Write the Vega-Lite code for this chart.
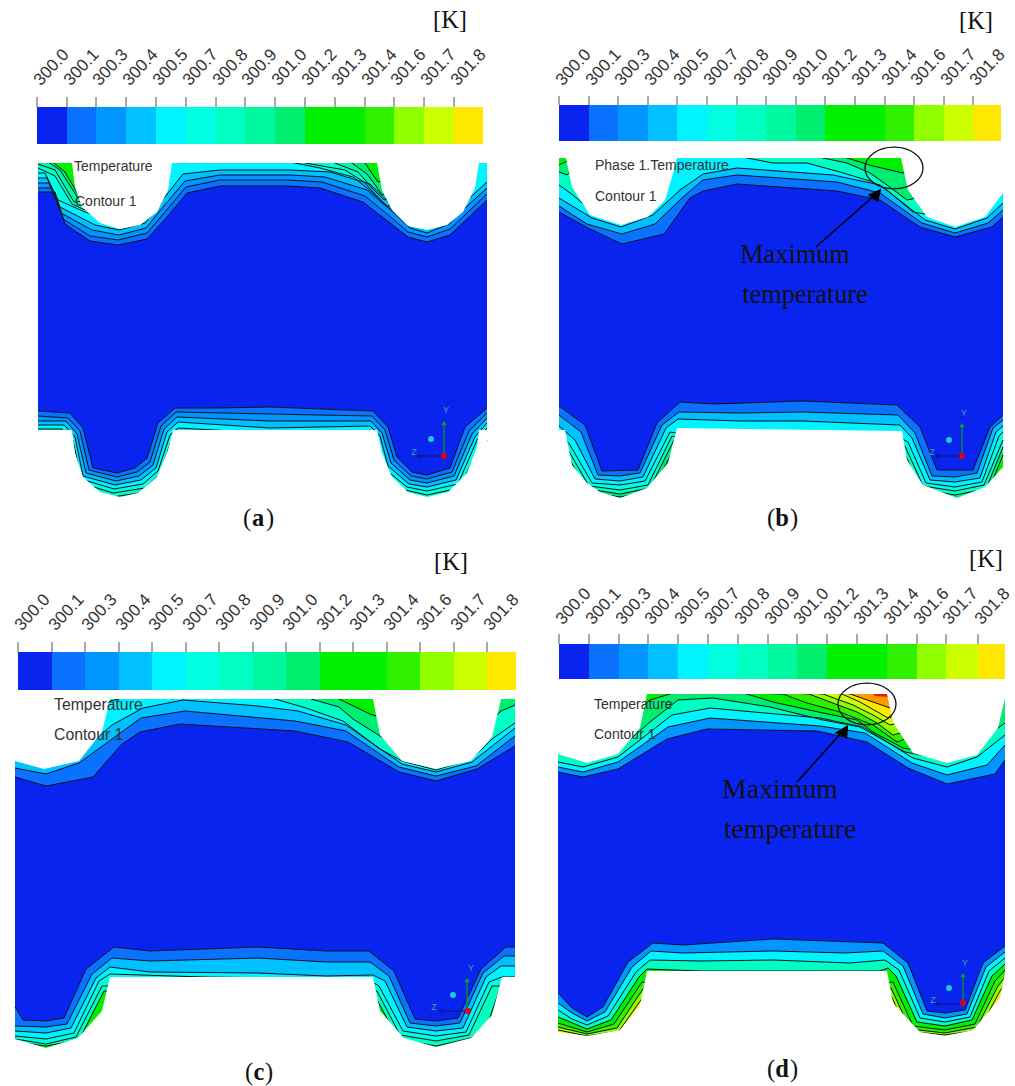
{"$schema":"https://vega.github.io/schema/vega-lite/v6.json","width":1015,"height":1086,"padding":0,"autosize":{"type":"fit","contains":"padding"},"background":"#ffffff","config":{"view":{"stroke":null}},
"datasets":{
"contours":[
{"p":"at","t":9,"x":38,"y":120,"n":1},{"p":"at","t":9,"x":487,"y":120,"n":1},{"p":"at","t":9,"x":487,"y":330,"n":1},{"p":"at","t":9,"x":38,"y":330,"n":1},
{"p":"at","t":8,"x":38,"y":150},{"p":"at","t":8,"x":65,"y":172},{"p":"at","t":8,"x":79,"y":196},{"p":"at","t":8,"x":100,"y":180},{"p":"at","t":8,"x":140,"y":140},{"p":"at","t":8,"x":345,"y":150},{"p":"at","t":8,"x":365,"y":163},{"p":"at","t":8,"x":378,"y":182},{"p":"at","t":8,"x":420,"y":170},{"p":"at","t":8,"x":487,"y":130},{"p":"at","t":8,"x":487,"y":330,"n":1},{"p":"at","t":8,"x":38,"y":330,"n":1},
{"p":"at","t":7,"x":38,"y":155},{"p":"at","t":7,"x":60,"y":170},{"p":"at","t":7,"x":78,"y":198},{"p":"at","t":7,"x":100,"y":190},{"p":"at","t":7,"x":140,"y":145},{"p":"at","t":7,"x":335,"y":150},{"p":"at","t":7,"x":352,"y":163},{"p":"at","t":7,"x":367,"y":174},{"p":"at","t":7,"x":376,"y":186},{"p":"at","t":7,"x":382,"y":195},{"p":"at","t":7,"x":420,"y":180},{"p":"at","t":7,"x":487,"y":135},{"p":"at","t":7,"x":487,"y":330,"n":1},{"p":"at","t":7,"x":38,"y":330,"n":1},
{"p":"at","t":6,"x":38,"y":164},{"p":"at","t":6,"x":55,"y":170},{"p":"at","t":6,"x":74,"y":202},{"p":"at","t":6,"x":95,"y":200},{"p":"at","t":6,"x":140,"y":150},{"p":"at","t":6,"x":310,"y":150},{"p":"at","t":6,"x":335,"y":163},{"p":"at","t":6,"x":358,"y":172},{"p":"at","t":6,"x":372,"y":188},{"p":"at","t":6,"x":384,"y":200},{"p":"at","t":6,"x":420,"y":190},{"p":"at","t":6,"x":487,"y":140},{"p":"at","t":6,"x":487,"y":330,"n":1},{"p":"at","t":6,"x":38,"y":330,"n":1},
{"p":"at","t":5,"x":38,"y":168},{"p":"at","t":5,"x":55,"y":176},{"p":"at","t":5,"x":72,"y":204},{"p":"at","t":5,"x":85,"y":210},{"p":"at","t":5,"x":120,"y":200},{"p":"at","t":5,"x":165,"y":150},{"p":"at","t":5,"x":290,"y":150},{"p":"at","t":5,"x":305,"y":163},{"p":"at","t":5,"x":345,"y":170},{"p":"at","t":5,"x":364,"y":182},{"p":"at","t":5,"x":386,"y":206},{"p":"at","t":5,"x":420,"y":205},{"p":"at","t":5,"x":487,"y":150},{"p":"at","t":5,"x":487,"y":330,"n":1},{"p":"at","t":5,"x":38,"y":330,"n":1},
{"p":"at","t":4,"x":38,"y":173},{"p":"at","t":4,"x":45,"y":173},{"p":"at","t":4,"x":58,"y":200},{"p":"at","t":4,"x":85,"y":212},{"p":"at","t":4,"x":120,"y":222},{"p":"at","t":4,"x":150,"y":205},{"p":"at","t":4,"x":172,"y":160},{"p":"at","t":4,"x":280,"y":160},{"p":"at","t":4,"x":320,"y":168},{"p":"at","t":4,"x":353,"y":177},{"p":"at","t":4,"x":367,"y":188},{"p":"at","t":4,"x":392,"y":210},{"p":"at","t":4,"x":408,"y":220},{"p":"at","t":4,"x":427,"y":222},{"p":"at","t":4,"x":450,"y":215},{"p":"at","t":4,"x":470,"y":190},{"p":"at","t":4,"x":479,"y":155},{"p":"at","t":4,"x":487,"y":155},{"p":"at","t":4,"x":487,"y":330,"n":1},{"p":"at","t":4,"x":38,"y":330,"n":1},
{"p":"at","t":3,"x":38,"y":178},{"p":"at","t":3,"x":47,"y":178},{"p":"at","t":3,"x":60,"y":207},{"p":"at","t":3,"x":95,"y":225},{"p":"at","t":3,"x":119,"y":230},{"p":"at","t":3,"x":145,"y":223},{"p":"at","t":3,"x":160,"y":203},{"p":"at","t":3,"x":183,"y":174},{"p":"at","t":3,"x":220,"y":170},{"p":"at","t":3,"x":290,"y":170},{"p":"at","t":3,"x":330,"y":172},{"p":"at","t":3,"x":370,"y":184},{"p":"at","t":3,"x":395,"y":208},{"p":"at","t":3,"x":410,"y":224},{"p":"at","t":3,"x":427,"y":229},{"p":"at","t":3,"x":448,"y":219},{"p":"at","t":3,"x":463,"y":204},{"p":"at","t":3,"x":487,"y":182},{"p":"at","t":3,"x":487,"y":330,"n":1},{"p":"at","t":3,"x":38,"y":330,"n":1},
{"p":"at","t":2,"x":38,"y":183},{"p":"at","t":2,"x":49,"y":183},{"p":"at","t":2,"x":61,"y":213},{"p":"at","t":2,"x":92,"y":230},{"p":"at","t":2,"x":119,"y":235},{"p":"at","t":2,"x":146,"y":228},{"p":"at","t":2,"x":163,"y":207},{"p":"at","t":2,"x":185,"y":181},{"p":"at","t":2,"x":220,"y":175},{"p":"at","t":2,"x":290,"y":175},{"p":"at","t":2,"x":325,"y":177},{"p":"at","t":2,"x":367,"y":190},{"p":"at","t":2,"x":394,"y":213},{"p":"at","t":2,"x":410,"y":228},{"p":"at","t":2,"x":427,"y":233},{"p":"at","t":2,"x":449,"y":224},{"p":"at","t":2,"x":465,"y":208},{"p":"at","t":2,"x":487,"y":188},{"p":"at","t":2,"x":487,"y":330,"n":1},{"p":"at","t":2,"x":38,"y":330,"n":1},
{"p":"at","t":1,"x":38,"y":188},{"p":"at","t":1,"x":52,"y":188},{"p":"at","t":1,"x":63,"y":219},{"p":"at","t":1,"x":90,"y":236},{"p":"at","t":1,"x":118,"y":240},{"p":"at","t":1,"x":147,"y":233},{"p":"at","t":1,"x":165,"y":212},{"p":"at","t":1,"x":186,"y":187},{"p":"at","t":1,"x":220,"y":180},{"p":"at","t":1,"x":287,"y":180},{"p":"at","t":1,"x":322,"y":182},{"p":"at","t":1,"x":365,"y":196},{"p":"at","t":1,"x":392,"y":218},{"p":"at","t":1,"x":408,"y":232},{"p":"at","t":1,"x":427,"y":237},{"p":"at","t":1,"x":450,"y":229},{"p":"at","t":1,"x":467,"y":213},{"p":"at","t":1,"x":487,"y":194},{"p":"at","t":1,"x":487,"y":330,"n":1},{"p":"at","t":1,"x":38,"y":330,"n":1},
{"p":"at","t":0,"x":38,"y":192},{"p":"at","t":0,"x":55,"y":192},{"p":"at","t":0,"x":65,"y":224},{"p":"at","t":0,"x":90,"y":241},{"p":"at","t":0,"x":118,"y":245},{"p":"at","t":0,"x":147,"y":239},{"p":"at","t":0,"x":167,"y":217},{"p":"at","t":0,"x":187,"y":193},{"p":"at","t":0,"x":220,"y":186},{"p":"at","t":0,"x":287,"y":186},{"p":"at","t":0,"x":320,"y":188},{"p":"at","t":0,"x":363,"y":202},{"p":"at","t":0,"x":390,"y":223},{"p":"at","t":0,"x":408,"y":237},{"p":"at","t":0,"x":427,"y":242},{"p":"at","t":0,"x":450,"y":235},{"p":"at","t":0,"x":468,"y":218},{"p":"at","t":0,"x":487,"y":200},{"p":"at","t":0,"x":487,"y":330,"n":1},{"p":"at","t":0,"x":38,"y":330,"n":1},

{"p":"ab","t":8,"x":38,"y":300,"n":1},{"p":"ab","t":8,"x":487,"y":300,"n":1},{"p":"ab","t":8,"x":487,"y":520,"n":1},{"p":"ab","t":8,"x":38,"y":520,"n":1},
{"p":"ab","t":6,"x":38,"y":440},{"p":"ab","t":6,"x":60,"y":440},{"p":"ab","t":6,"x":68,"y":449},{"p":"ab","t":6,"x":76,"y":485},{"p":"ab","t":6,"x":112,"y":497},{"p":"ab","t":6,"x":147,"y":492},{"p":"ab","t":6,"x":163,"y":477},{"p":"ab","t":6,"x":175,"y":442},{"p":"ab","t":6,"x":200,"y":445},{"p":"ab","t":6,"x":360,"y":445},{"p":"ab","t":6,"x":372,"y":450},{"p":"ab","t":6,"x":380,"y":475},{"p":"ab","t":6,"x":403,"y":493},{"p":"ab","t":6,"x":427,"y":499},{"p":"ab","t":6,"x":462,"y":492},{"p":"ab","t":6,"x":483,"y":448},{"p":"ab","t":6,"x":487,"y":440},{"p":"ab","t":6,"x":487,"y":300,"n":1},{"p":"ab","t":6,"x":38,"y":300,"n":1},
{"p":"ab","t":5,"x":38,"y":435},{"p":"ab","t":5,"x":60,"y":435},{"p":"ab","t":5,"x":70,"y":444},{"p":"ab","t":5,"x":78,"y":482},{"p":"ab","t":5,"x":113,"y":493},{"p":"ab","t":5,"x":145,"y":488},{"p":"ab","t":5,"x":160,"y":474},{"p":"ab","t":5,"x":172,"y":438},{"p":"ab","t":5,"x":200,"y":440},{"p":"ab","t":5,"x":360,"y":440},{"p":"ab","t":5,"x":375,"y":445},{"p":"ab","t":5,"x":383,"y":472},{"p":"ab","t":5,"x":405,"y":490},{"p":"ab","t":5,"x":427,"y":495},{"p":"ab","t":5,"x":460,"y":488},{"p":"ab","t":5,"x":480,"y":444},{"p":"ab","t":5,"x":487,"y":434},{"p":"ab","t":5,"x":487,"y":300,"n":1},{"p":"ab","t":5,"x":38,"y":300,"n":1},
{"p":"ab","t":4,"x":38,"y":429},{"p":"ab","t":4,"x":62,"y":429},{"p":"ab","t":4,"x":73,"y":440},{"p":"ab","t":4,"x":81,"y":479},{"p":"ab","t":4,"x":114,"y":489},{"p":"ab","t":4,"x":143,"y":484},{"p":"ab","t":4,"x":158,"y":471},{"p":"ab","t":4,"x":170,"y":435},{"p":"ab","t":4,"x":178,"y":428},{"p":"ab","t":4,"x":250,"y":432},{"p":"ab","t":4,"x":375,"y":431},{"p":"ab","t":4,"x":378,"y":440},{"p":"ab","t":4,"x":385,"y":469},{"p":"ab","t":4,"x":407,"y":487},{"p":"ab","t":4,"x":427,"y":491},{"p":"ab","t":4,"x":458,"y":484},{"p":"ab","t":4,"x":477,"y":440},{"p":"ab","t":4,"x":487,"y":428},{"p":"ab","t":4,"x":487,"y":300,"n":1},{"p":"ab","t":4,"x":38,"y":300,"n":1},
{"p":"ab","t":3,"x":38,"y":425},{"p":"ab","t":3,"x":64,"y":425},{"p":"ab","t":3,"x":75,"y":437},{"p":"ab","t":3,"x":83,"y":476},{"p":"ab","t":3,"x":115,"y":485},{"p":"ab","t":3,"x":141,"y":480},{"p":"ab","t":3,"x":156,"y":468},{"p":"ab","t":3,"x":167,"y":432},{"p":"ab","t":3,"x":178,"y":422},{"p":"ab","t":3,"x":270,"y":428},{"p":"ab","t":3,"x":370,"y":426},{"p":"ab","t":3,"x":380,"y":436},{"p":"ab","t":3,"x":388,"y":466},{"p":"ab","t":3,"x":409,"y":484},{"p":"ab","t":3,"x":427,"y":487},{"p":"ab","t":3,"x":456,"y":480},{"p":"ab","t":3,"x":475,"y":437},{"p":"ab","t":3,"x":487,"y":423},{"p":"ab","t":3,"x":487,"y":300,"n":1},{"p":"ab","t":3,"x":38,"y":300,"n":1},
{"p":"ab","t":2,"x":38,"y":421},{"p":"ab","t":2,"x":66,"y":421},{"p":"ab","t":2,"x":77,"y":434},{"p":"ab","t":2,"x":86,"y":473},{"p":"ab","t":2,"x":116,"y":481},{"p":"ab","t":2,"x":139,"y":476},{"p":"ab","t":2,"x":153,"y":465},{"p":"ab","t":2,"x":164,"y":429},{"p":"ab","t":2,"x":177,"y":417},{"p":"ab","t":2,"x":270,"y":421},{"p":"ab","t":2,"x":371,"y":421},{"p":"ab","t":2,"x":382,"y":433},{"p":"ab","t":2,"x":391,"y":463},{"p":"ab","t":2,"x":410,"y":480},{"p":"ab","t":2,"x":427,"y":483},{"p":"ab","t":2,"x":454,"y":476},{"p":"ab","t":2,"x":472,"y":434},{"p":"ab","t":2,"x":487,"y":418},{"p":"ab","t":2,"x":487,"y":300,"n":1},{"p":"ab","t":2,"x":38,"y":300,"n":1},
{"p":"ab","t":1,"x":38,"y":416},{"p":"ab","t":1,"x":68,"y":418},{"p":"ab","t":1,"x":80,"y":431},{"p":"ab","t":1,"x":89,"y":470},{"p":"ab","t":1,"x":117,"y":477},{"p":"ab","t":1,"x":137,"y":472},{"p":"ab","t":1,"x":150,"y":462},{"p":"ab","t":1,"x":161,"y":426},{"p":"ab","t":1,"x":176,"y":412},{"p":"ab","t":1,"x":270,"y":414},{"p":"ab","t":1,"x":372,"y":416},{"p":"ab","t":1,"x":385,"y":430},{"p":"ab","t":1,"x":394,"y":460},{"p":"ab","t":1,"x":411,"y":476},{"p":"ab","t":1,"x":427,"y":479},{"p":"ab","t":1,"x":452,"y":472},{"p":"ab","t":1,"x":469,"y":431},{"p":"ab","t":1,"x":487,"y":413},{"p":"ab","t":1,"x":487,"y":300,"n":1},{"p":"ab","t":1,"x":38,"y":300,"n":1},
{"p":"ab","t":0,"x":38,"y":411},{"p":"ab","t":0,"x":70,"y":413},{"p":"ab","t":0,"x":83,"y":428},{"p":"ab","t":0,"x":93,"y":468},{"p":"ab","t":0,"x":117,"y":473},{"p":"ab","t":0,"x":135,"y":468},{"p":"ab","t":0,"x":147,"y":458},{"p":"ab","t":0,"x":158,"y":423},{"p":"ab","t":0,"x":175,"y":408},{"p":"ab","t":0,"x":220,"y":408},{"p":"ab","t":0,"x":270,"y":407},{"p":"ab","t":0,"x":373,"y":411},{"p":"ab","t":0,"x":388,"y":427},{"p":"ab","t":0,"x":397,"y":457},{"p":"ab","t":0,"x":412,"y":472},{"p":"ab","t":0,"x":427,"y":475},{"p":"ab","t":0,"x":450,"y":468},{"p":"ab","t":0,"x":465,"y":427},{"p":"ab","t":0,"x":487,"y":408},{"p":"ab","t":0,"x":487,"y":300,"n":1},{"p":"ab","t":0,"x":38,"y":300,"n":1},

{"p":"bt","t":9,"x":559,"y":120,"n":1},{"p":"bt","t":9,"x":1003,"y":120,"n":1},{"p":"bt","t":9,"x":1003,"y":330,"n":1},{"p":"bt","t":9,"x":559,"y":330,"n":1},
{"p":"bt","t":8,"x":559,"y":165},{"p":"bt","t":8,"x":600,"y":145},{"p":"bt","t":8,"x":830,"y":150},{"p":"bt","t":8,"x":847,"y":158},{"p":"bt","t":8,"x":873,"y":166},{"p":"bt","t":8,"x":903,"y":173},{"p":"bt","t":8,"x":930,"y":165},{"p":"bt","t":8,"x":1003,"y":145},{"p":"bt","t":8,"x":1003,"y":330,"n":1},{"p":"bt","t":8,"x":559,"y":330,"n":1},
{"p":"bt","t":6,"x":559,"y":172},{"p":"bt","t":6,"x":567,"y":175},{"p":"bt","t":6,"x":590,"y":150},{"p":"bt","t":6,"x":800,"y":150},{"p":"bt","t":6,"x":823,"y":158},{"p":"bt","t":6,"x":847,"y":163},{"p":"bt","t":6,"x":870,"y":173},{"p":"bt","t":6,"x":887,"y":185},{"p":"bt","t":6,"x":907,"y":200},{"p":"bt","t":6,"x":930,"y":195},{"p":"bt","t":6,"x":1003,"y":160},{"p":"bt","t":6,"x":1003,"y":330,"n":1},{"p":"bt","t":6,"x":559,"y":330,"n":1},
{"p":"bt","t":4,"x":559,"y":185},{"p":"bt","t":4,"x":573,"y":195},{"p":"bt","t":4,"x":590,"y":210},{"p":"bt","t":4,"x":621,"y":205},{"p":"bt","t":4,"x":650,"y":190},{"p":"bt","t":4,"x":677,"y":150},{"p":"bt","t":4,"x":735,"y":150},{"p":"bt","t":4,"x":747,"y":158},{"p":"bt","t":4,"x":773,"y":163},{"p":"bt","t":4,"x":807,"y":163},{"p":"bt","t":4,"x":840,"y":172},{"p":"bt","t":4,"x":873,"y":182},{"p":"bt","t":4,"x":887,"y":190},{"p":"bt","t":4,"x":913,"y":212},{"p":"bt","t":4,"x":930,"y":215},{"p":"bt","t":4,"x":955,"y":222},{"p":"bt","t":4,"x":985,"y":212},{"p":"bt","t":4,"x":1003,"y":188},{"p":"bt","t":4,"x":1003,"y":330,"n":1},{"p":"bt","t":4,"x":559,"y":330,"n":1},
{"p":"bt","t":3,"x":559,"y":198},{"p":"bt","t":3,"x":592,"y":218},{"p":"bt","t":3,"x":621,"y":227},{"p":"bt","t":3,"x":653,"y":215},{"p":"bt","t":3,"x":680,"y":190},{"p":"bt","t":3,"x":703,"y":174},{"p":"bt","t":3,"x":737,"y":168},{"p":"bt","t":3,"x":833,"y":175},{"p":"bt","t":3,"x":880,"y":185},{"p":"bt","t":3,"x":925,"y":220},{"p":"bt","t":3,"x":955,"y":229},{"p":"bt","t":3,"x":987,"y":218},{"p":"bt","t":3,"x":1003,"y":203},{"p":"bt","t":3,"x":1003,"y":330,"n":1},{"p":"bt","t":3,"x":559,"y":330,"n":1},
{"p":"bt","t":1,"x":559,"y":206},{"p":"bt","t":1,"x":587,"y":224},{"p":"bt","t":1,"x":622,"y":234},{"p":"bt","t":1,"x":655,"y":224},{"p":"bt","t":1,"x":683,"y":197},{"p":"bt","t":1,"x":703,"y":180},{"p":"bt","t":1,"x":737,"y":175},{"p":"bt","t":1,"x":837,"y":182},{"p":"bt","t":1,"x":880,"y":193},{"p":"bt","t":1,"x":922,"y":223},{"p":"bt","t":1,"x":955,"y":233},{"p":"bt","t":1,"x":988,"y":223},{"p":"bt","t":1,"x":1003,"y":210},{"p":"bt","t":1,"x":1003,"y":330,"n":1},{"p":"bt","t":1,"x":559,"y":330,"n":1},
{"p":"bt","t":0,"x":559,"y":212},{"p":"bt","t":0,"x":588,"y":228},{"p":"bt","t":0,"x":622,"y":244},{"p":"bt","t":0,"x":664,"y":234},{"p":"bt","t":0,"x":690,"y":198},{"p":"bt","t":0,"x":703,"y":191},{"p":"bt","t":0,"x":737,"y":184},{"p":"bt","t":0,"x":837,"y":191},{"p":"bt","t":0,"x":880,"y":200},{"p":"bt","t":0,"x":920,"y":227},{"p":"bt","t":0,"x":955,"y":237},{"p":"bt","t":0,"x":992,"y":227},{"p":"bt","t":0,"x":1003,"y":217},{"p":"bt","t":0,"x":1003,"y":330,"n":1},{"p":"bt","t":0,"x":559,"y":330,"n":1},

{"p":"bb","t":10,"x":559,"y":300,"n":1},{"p":"bb","t":10,"x":1003,"y":300,"n":1},{"p":"bb","t":10,"x":1003,"y":520,"n":1},{"p":"bb","t":10,"x":559,"y":520,"n":1},
{"p":"bb","t":8,"x":559,"y":450},{"p":"bb","t":8,"x":563,"y":456},{"p":"bb","t":8,"x":585,"y":491},{"p":"bb","t":8,"x":620,"y":497},{"p":"bb","t":8,"x":652,"y":491},{"p":"bb","t":8,"x":676,"y":445},{"p":"bb","t":8,"x":690,"y":450},{"p":"bb","t":8,"x":895,"y":450},{"p":"bb","t":8,"x":901,"y":455},{"p":"bb","t":8,"x":919,"y":492},{"p":"bb","t":8,"x":955,"y":499},{"p":"bb","t":8,"x":988,"y":492},{"p":"bb","t":8,"x":1003,"y":455},{"p":"bb","t":8,"x":1003,"y":300,"n":1},{"p":"bb","t":8,"x":559,"y":300,"n":1},
{"p":"bb","t":6,"x":559,"y":445},{"p":"bb","t":6,"x":565,"y":452},{"p":"bb","t":6,"x":587,"y":489},{"p":"bb","t":6,"x":620,"y":494},{"p":"bb","t":6,"x":650,"y":488},{"p":"bb","t":6,"x":674,"y":440},{"p":"bb","t":6,"x":690,"y":445},{"p":"bb","t":6,"x":895,"y":445},{"p":"bb","t":6,"x":903,"y":450},{"p":"bb","t":6,"x":921,"y":489},{"p":"bb","t":6,"x":955,"y":495},{"p":"bb","t":6,"x":986,"y":489},{"p":"bb","t":6,"x":1003,"y":447},{"p":"bb","t":6,"x":1003,"y":300,"n":1},{"p":"bb","t":6,"x":559,"y":300,"n":1},
{"p":"bb","t":5,"x":559,"y":440},{"p":"bb","t":5,"x":567,"y":448},{"p":"bb","t":5,"x":589,"y":486},{"p":"bb","t":5,"x":620,"y":490},{"p":"bb","t":5,"x":648,"y":485},{"p":"bb","t":5,"x":672,"y":436},{"p":"bb","t":5,"x":685,"y":440},{"p":"bb","t":5,"x":895,"y":440},{"p":"bb","t":5,"x":905,"y":446},{"p":"bb","t":5,"x":923,"y":486},{"p":"bb","t":5,"x":955,"y":491},{"p":"bb","t":5,"x":984,"y":485},{"p":"bb","t":5,"x":1003,"y":440},{"p":"bb","t":5,"x":1003,"y":300,"n":1},{"p":"bb","t":5,"x":559,"y":300,"n":1},
{"p":"bb","t":4,"x":559,"y":432},{"p":"bb","t":4,"x":570,"y":445},{"p":"bb","t":4,"x":592,"y":483},{"p":"bb","t":4,"x":620,"y":485},{"p":"bb","t":4,"x":645,"y":481},{"p":"bb","t":4,"x":670,"y":432},{"p":"bb","t":4,"x":685,"y":435},{"p":"bb","t":4,"x":895,"y":435},{"p":"bb","t":4,"x":908,"y":442},{"p":"bb","t":4,"x":926,"y":483},{"p":"bb","t":4,"x":955,"y":487},{"p":"bb","t":4,"x":982,"y":482},{"p":"bb","t":4,"x":999,"y":436},{"p":"bb","t":4,"x":1003,"y":432},{"p":"bb","t":4,"x":1003,"y":300,"n":1},{"p":"bb","t":4,"x":559,"y":300,"n":1},
{"p":"bb","t":3,"x":559,"y":426},{"p":"bb","t":3,"x":575,"y":440},{"p":"bb","t":3,"x":595,"y":479},{"p":"bb","t":3,"x":620,"y":481},{"p":"bb","t":3,"x":643,"y":477},{"p":"bb","t":3,"x":666,"y":428},{"p":"bb","t":3,"x":678,"y":419},{"p":"bb","t":3,"x":740,"y":421},{"p":"bb","t":3,"x":803,"y":421},{"p":"bb","t":3,"x":900,"y":425},{"p":"bb","t":3,"x":912,"y":438},{"p":"bb","t":3,"x":930,"y":480},{"p":"bb","t":3,"x":955,"y":482},{"p":"bb","t":3,"x":980,"y":478},{"p":"bb","t":3,"x":996,"y":432},{"p":"bb","t":3,"x":1003,"y":426},{"p":"bb","t":3,"x":1003,"y":300,"n":1},{"p":"bb","t":3,"x":559,"y":300,"n":1},
{"p":"bb","t":1,"x":559,"y":415},{"p":"bb","t":1,"x":581,"y":432},{"p":"bb","t":1,"x":598,"y":475},{"p":"bb","t":1,"x":620,"y":476},{"p":"bb","t":1,"x":640,"y":473},{"p":"bb","t":1,"x":662,"y":425},{"p":"bb","t":1,"x":679,"y":412},{"p":"bb","t":1,"x":740,"y":413},{"p":"bb","t":1,"x":803,"y":412},{"p":"bb","t":1,"x":898,"y":415},{"p":"bb","t":1,"x":915,"y":433},{"p":"bb","t":1,"x":932,"y":476},{"p":"bb","t":1,"x":955,"y":477},{"p":"bb","t":1,"x":977,"y":473},{"p":"bb","t":1,"x":993,"y":428},{"p":"bb","t":1,"x":1003,"y":420},{"p":"bb","t":1,"x":1003,"y":300,"n":1},{"p":"bb","t":1,"x":559,"y":300,"n":1},
{"p":"bb","t":0,"x":559,"y":406},{"p":"bb","t":0,"x":585,"y":425},{"p":"bb","t":0,"x":602,"y":471},{"p":"bb","t":0,"x":638,"y":470},{"p":"bb","t":0,"x":657,"y":423},{"p":"bb","t":0,"x":680,"y":402},{"p":"bb","t":0,"x":713,"y":404},{"p":"bb","t":0,"x":803,"y":401},{"p":"bb","t":0,"x":897,"y":405},{"p":"bb","t":0,"x":920,"y":427},{"p":"bb","t":0,"x":937,"y":470},{"p":"bb","t":0,"x":973,"y":470},{"p":"bb","t":0,"x":990,"y":427},{"p":"bb","t":0,"x":1003,"y":415},{"p":"bb","t":0,"x":1003,"y":300,"n":1},{"p":"bb","t":0,"x":559,"y":300,"n":1},

{"p":"ct","t":9,"x":15,"y":650,"n":1},{"p":"ct","t":9,"x":515,"y":650,"n":1},{"p":"ct","t":9,"x":515,"y":870,"n":1},{"p":"ct","t":9,"x":15,"y":870,"n":1},
{"p":"ct","t":8,"x":15,"y":733},{"p":"ct","t":8,"x":61,"y":723},{"p":"ct","t":8,"x":102,"y":682},{"p":"ct","t":8,"x":326,"y":688},{"p":"ct","t":8,"x":339,"y":699},{"p":"ct","t":8,"x":370,"y":714},{"p":"ct","t":8,"x":382,"y":718},{"p":"ct","t":8,"x":436,"y":733},{"p":"ct","t":8,"x":472,"y":718},{"p":"ct","t":8,"x":501,"y":698},{"p":"ct","t":8,"x":515,"y":693},{"p":"ct","t":8,"x":515,"y":870,"n":1},{"p":"ct","t":8,"x":15,"y":870,"n":1},
{"p":"ct","t":6,"x":15,"y":742},{"p":"ct","t":6,"x":61,"y":733},{"p":"ct","t":6,"x":102,"y":693},{"p":"ct","t":6,"x":306,"y":693},{"p":"ct","t":6,"x":311,"y":699},{"p":"ct","t":6,"x":339,"y":707},{"p":"ct","t":6,"x":353,"y":719},{"p":"ct","t":6,"x":380,"y":736},{"p":"ct","t":6,"x":402,"y":749},{"p":"ct","t":6,"x":436,"y":754},{"p":"ct","t":6,"x":472,"y":739},{"p":"ct","t":6,"x":501,"y":711},{"p":"ct","t":6,"x":515,"y":705},{"p":"ct","t":6,"x":515,"y":870,"n":1},{"p":"ct","t":6,"x":15,"y":870,"n":1},
{"p":"ct","t":4,"x":15,"y":749},{"p":"ct","t":4,"x":61,"y":744},{"p":"ct","t":4,"x":102,"y":703},{"p":"ct","t":4,"x":153,"y":691},{"p":"ct","t":4,"x":255,"y":691},{"p":"ct","t":4,"x":275,"y":699},{"p":"ct","t":4,"x":306,"y":708},{"p":"ct","t":4,"x":343,"y":721},{"p":"ct","t":4,"x":380,"y":749},{"p":"ct","t":4,"x":402,"y":761},{"p":"ct","t":4,"x":436,"y":770},{"p":"ct","t":4,"x":472,"y":759},{"p":"ct","t":4,"x":492,"y":739},{"p":"ct","t":4,"x":515,"y":723},{"p":"ct","t":4,"x":515,"y":870,"n":1},{"p":"ct","t":4,"x":15,"y":870,"n":1},
{"p":"ct","t":3,"x":15,"y":756},{"p":"ct","t":3,"x":46,"y":764},{"p":"ct","t":3,"x":79,"y":754},{"p":"ct","t":3,"x":112,"y":725},{"p":"ct","t":3,"x":143,"y":708},{"p":"ct","t":3,"x":183,"y":700},{"p":"ct","t":3,"x":258,"y":706},{"p":"ct","t":3,"x":298,"y":711},{"p":"ct","t":3,"x":346,"y":725},{"p":"ct","t":3,"x":402,"y":764},{"p":"ct","t":3,"x":436,"y":772},{"p":"ct","t":3,"x":472,"y":762},{"p":"ct","t":3,"x":515,"y":728},{"p":"ct","t":3,"x":515,"y":870,"n":1},{"p":"ct","t":3,"x":15,"y":870,"n":1},
{"p":"ct","t":1,"x":15,"y":768},{"p":"ct","t":1,"x":46,"y":774},{"p":"ct","t":1,"x":79,"y":763},{"p":"ct","t":1,"x":141,"y":718},{"p":"ct","t":1,"x":185,"y":711},{"p":"ct","t":1,"x":295,"y":721},{"p":"ct","t":1,"x":346,"y":731},{"p":"ct","t":1,"x":399,"y":767},{"p":"ct","t":1,"x":436,"y":776},{"p":"ct","t":1,"x":476,"y":766},{"p":"ct","t":1,"x":515,"y":736},{"p":"ct","t":1,"x":515,"y":870,"n":1},{"p":"ct","t":1,"x":15,"y":870,"n":1},
{"p":"ct","t":0,"x":15,"y":777},{"p":"ct","t":0,"x":46,"y":786},{"p":"ct","t":0,"x":93,"y":777},{"p":"ct","t":0,"x":122,"y":744},{"p":"ct","t":0,"x":140,"y":732},{"p":"ct","t":0,"x":180,"y":724},{"p":"ct","t":0,"x":295,"y":731},{"p":"ct","t":0,"x":348,"y":742},{"p":"ct","t":0,"x":399,"y":772},{"p":"ct","t":0,"x":436,"y":781},{"p":"ct","t":0,"x":477,"y":769},{"p":"ct","t":0,"x":515,"y":746},{"p":"ct","t":0,"x":515,"y":870,"n":1},{"p":"ct","t":0,"x":15,"y":870,"n":1},

{"p":"cb","t":9,"x":15,"y":840,"n":1},{"p":"cb","t":9,"x":515,"y":840,"n":1},{"p":"cb","t":9,"x":515,"y":1065,"n":1},{"p":"cb","t":9,"x":15,"y":1065,"n":1},
{"p":"cb","t":6,"x":15,"y":1042},{"p":"cb","t":6,"x":46,"y":1046},{"p":"cb","t":6,"x":79,"y":1040},{"p":"cb","t":6,"x":104,"y":991},{"p":"cb","t":6,"x":132,"y":991},{"p":"cb","t":6,"x":356,"y":991},{"p":"cb","t":6,"x":375,"y":996},{"p":"cb","t":6,"x":398,"y":1039},{"p":"cb","t":6,"x":436,"y":1046},{"p":"cb","t":6,"x":471,"y":1038},{"p":"cb","t":6,"x":489,"y":1020},{"p":"cb","t":6,"x":499,"y":991},{"p":"cb","t":6,"x":515,"y":991},{"p":"cb","t":6,"x":515,"y":840,"n":1},{"p":"cb","t":6,"x":15,"y":840,"n":1},
{"p":"cb","t":5,"x":15,"y":1039},{"p":"cb","t":5,"x":46,"y":1044},{"p":"cb","t":5,"x":76,"y":1037},{"p":"cb","t":5,"x":102,"y":986},{"p":"cb","t":5,"x":132,"y":986},{"p":"cb","t":5,"x":356,"y":986},{"p":"cb","t":5,"x":377,"y":991},{"p":"cb","t":5,"x":400,"y":1035},{"p":"cb","t":5,"x":436,"y":1041},{"p":"cb","t":5,"x":469,"y":1035},{"p":"cb","t":5,"x":492,"y":986},{"p":"cb","t":5,"x":515,"y":986},{"p":"cb","t":5,"x":515,"y":840,"n":1},{"p":"cb","t":5,"x":15,"y":840,"n":1},
{"p":"cb","t":4,"x":15,"y":1036},{"p":"cb","t":4,"x":46,"y":1039},{"p":"cb","t":4,"x":74,"y":1033},{"p":"cb","t":4,"x":99,"y":981},{"p":"cb","t":4,"x":110,"y":974},{"p":"cb","t":4,"x":204,"y":977},{"p":"cb","t":4,"x":367,"y":979},{"p":"cb","t":4,"x":379,"y":986},{"p":"cb","t":4,"x":403,"y":1031},{"p":"cb","t":4,"x":436,"y":1036},{"p":"cb","t":4,"x":466,"y":1032},{"p":"cb","t":4,"x":489,"y":982},{"p":"cb","t":4,"x":502,"y":977},{"p":"cb","t":4,"x":515,"y":977},{"p":"cb","t":4,"x":515,"y":840,"n":1},{"p":"cb","t":4,"x":15,"y":840,"n":1},
{"p":"cb","t":3,"x":15,"y":1031},{"p":"cb","t":3,"x":46,"y":1033},{"p":"cb","t":3,"x":71,"y":1028},{"p":"cb","t":3,"x":96,"y":978},{"p":"cb","t":3,"x":110,"y":967},{"p":"cb","t":3,"x":150,"y":972},{"p":"cb","t":3,"x":258,"y":973},{"p":"cb","t":3,"x":326,"y":976},{"p":"cb","t":3,"x":373,"y":975},{"p":"cb","t":3,"x":385,"y":981},{"p":"cb","t":3,"x":407,"y":1027},{"p":"cb","t":3,"x":436,"y":1031},{"p":"cb","t":3,"x":463,"y":1028},{"p":"cb","t":3,"x":486,"y":977},{"p":"cb","t":3,"x":501,"y":966},{"p":"cb","t":3,"x":515,"y":966},{"p":"cb","t":3,"x":515,"y":840,"n":1},{"p":"cb","t":3,"x":15,"y":840,"n":1},
{"p":"cb","t":1,"x":15,"y":1026},{"p":"cb","t":1,"x":46,"y":1027},{"p":"cb","t":1,"x":67,"y":1024},{"p":"cb","t":1,"x":92,"y":974},{"p":"cb","t":1,"x":112,"y":958},{"p":"cb","t":1,"x":150,"y":961},{"p":"cb","t":1,"x":258,"y":958},{"p":"cb","t":1,"x":326,"y":962},{"p":"cb","t":1,"x":370,"y":962},{"p":"cb","t":1,"x":389,"y":976},{"p":"cb","t":1,"x":410,"y":1023},{"p":"cb","t":1,"x":436,"y":1026},{"p":"cb","t":1,"x":460,"y":1023},{"p":"cb","t":1,"x":483,"y":973},{"p":"cb","t":1,"x":504,"y":956},{"p":"cb","t":1,"x":515,"y":956},{"p":"cb","t":1,"x":515,"y":840,"n":1},{"p":"cb","t":1,"x":15,"y":840,"n":1},
{"p":"cb","t":0,"x":15,"y":1007},{"p":"cb","t":0,"x":23,"y":1020},{"p":"cb","t":0,"x":46,"y":1021},{"p":"cb","t":0,"x":64,"y":1018},{"p":"cb","t":0,"x":86,"y":969},{"p":"cb","t":0,"x":114,"y":947},{"p":"cb","t":0,"x":150,"y":951},{"p":"cb","t":0,"x":258,"y":947},{"p":"cb","t":0,"x":326,"y":951},{"p":"cb","t":0,"x":369,"y":951},{"p":"cb","t":0,"x":394,"y":971},{"p":"cb","t":0,"x":415,"y":1019},{"p":"cb","t":0,"x":436,"y":1021},{"p":"cb","t":0,"x":458,"y":1018},{"p":"cb","t":0,"x":481,"y":969},{"p":"cb","t":0,"x":506,"y":947},{"p":"cb","t":0,"x":515,"y":947},{"p":"cb","t":0,"x":515,"y":840,"n":1},{"p":"cb","t":0,"x":15,"y":840,"n":1},

{"p":"dt","t":15,"x":558,"y":640,"n":1},{"p":"dt","t":15,"x":1005,"y":640,"n":1},{"p":"dt","t":15,"x":1005,"y":870,"n":1},{"p":"dt","t":15,"x":558,"y":870,"n":1},
{"p":"dt","t":14,"x":558,"y":715},{"p":"dt","t":14,"x":640,"y":670},{"p":"dt","t":14,"x":850,"y":694},{"p":"dt","t":14,"x":873,"y":702},{"p":"dt","t":14,"x":890,"y":708},{"p":"dt","t":14,"x":930,"y":695},{"p":"dt","t":14,"x":1005,"y":660},{"p":"dt","t":14,"x":1005,"y":870,"n":1},{"p":"dt","t":14,"x":558,"y":870,"n":1},
{"p":"dt","t":13,"x":558,"y":720},{"p":"dt","t":13,"x":640,"y":675},{"p":"dt","t":13,"x":842,"y":694},{"p":"dt","t":13,"x":860,"y":702},{"p":"dt","t":13,"x":888,"y":718},{"p":"dt","t":13,"x":930,"y":705},{"p":"dt","t":13,"x":1005,"y":665},{"p":"dt","t":13,"x":1005,"y":870,"n":1},{"p":"dt","t":13,"x":558,"y":870,"n":1},
{"p":"dt","t":12,"x":558,"y":725},{"p":"dt","t":12,"x":640,"y":680},{"p":"dt","t":12,"x":823,"y":694},{"p":"dt","t":12,"x":853,"y":705},{"p":"dt","t":12,"x":873,"y":715},{"p":"dt","t":12,"x":890,"y":725},{"p":"dt","t":12,"x":930,"y":715},{"p":"dt","t":12,"x":1005,"y":670},{"p":"dt","t":12,"x":1005,"y":870,"n":1},{"p":"dt","t":12,"x":558,"y":870,"n":1},
{"p":"dt","t":11,"x":558,"y":730},{"p":"dt","t":11,"x":640,"y":685},{"p":"dt","t":11,"x":809,"y":694},{"p":"dt","t":11,"x":830,"y":702},{"p":"dt","t":11,"x":857,"y":712},{"p":"dt","t":11,"x":877,"y":723},{"p":"dt","t":11,"x":893,"y":735},{"p":"dt","t":11,"x":930,"y":725},{"p":"dt","t":11,"x":1005,"y":675},{"p":"dt","t":11,"x":1005,"y":870,"n":1},{"p":"dt","t":11,"x":558,"y":870,"n":1},
{"p":"dt","t":9,"x":558,"y":735},{"p":"dt","t":9,"x":640,"y":690},{"p":"dt","t":9,"x":783,"y":694},{"p":"dt","t":9,"x":807,"y":703},{"p":"dt","t":9,"x":840,"y":712},{"p":"dt","t":9,"x":873,"y":725},{"p":"dt","t":9,"x":897,"y":742},{"p":"dt","t":9,"x":930,"y":730},{"p":"dt","t":9,"x":1005,"y":680},{"p":"dt","t":9,"x":1005,"y":870,"n":1},{"p":"dt","t":9,"x":558,"y":870,"n":1},
{"p":"dt","t":8,"x":558,"y":740},{"p":"dt","t":8,"x":600,"y":740},{"p":"dt","t":8,"x":650,"y":700},{"p":"dt","t":8,"x":700,"y":685},{"p":"dt","t":8,"x":747,"y":694},{"p":"dt","t":8,"x":773,"y":702},{"p":"dt","t":8,"x":823,"y":713},{"p":"dt","t":8,"x":857,"y":720},{"p":"dt","t":8,"x":873,"y":732},{"p":"dt","t":8,"x":903,"y":748},{"p":"dt","t":8,"x":947,"y":755},{"p":"dt","t":8,"x":975,"y":740},{"p":"dt","t":8,"x":1005,"y":690},{"p":"dt","t":8,"x":1005,"y":870,"n":1},{"p":"dt","t":8,"x":558,"y":870,"n":1},
{"p":"dt","t":6,"x":558,"y":748},{"p":"dt","t":6,"x":583,"y":760},{"p":"dt","t":6,"x":618,"y":750},{"p":"dt","t":6,"x":650,"y":722},{"p":"dt","t":6,"x":678,"y":700},{"p":"dt","t":6,"x":713,"y":698},{"p":"dt","t":6,"x":770,"y":707},{"p":"dt","t":6,"x":823,"y":720},{"p":"dt","t":6,"x":860,"y":727},{"p":"dt","t":6,"x":905,"y":752},{"p":"dt","t":6,"x":947,"y":760},{"p":"dt","t":6,"x":977,"y":748},{"p":"dt","t":6,"x":998,"y":728},{"p":"dt","t":6,"x":1005,"y":723},{"p":"dt","t":6,"x":1005,"y":870,"n":1},{"p":"dt","t":6,"x":558,"y":870,"n":1},
{"p":"dt","t":4,"x":558,"y":762},{"p":"dt","t":4,"x":583,"y":767},{"p":"dt","t":4,"x":618,"y":757},{"p":"dt","t":4,"x":672,"y":715},{"p":"dt","t":4,"x":710,"y":708},{"p":"dt","t":4,"x":820,"y":718},{"p":"dt","t":4,"x":863,"y":727},{"p":"dt","t":4,"x":913,"y":758},{"p":"dt","t":4,"x":947,"y":767},{"p":"dt","t":4,"x":977,"y":757},{"p":"dt","t":4,"x":1005,"y":735},{"p":"dt","t":4,"x":1005,"y":870,"n":1},{"p":"dt","t":4,"x":558,"y":870,"n":1},
{"p":"dt","t":2,"x":558,"y":767},{"p":"dt","t":2,"x":583,"y":772},{"p":"dt","t":2,"x":618,"y":762},{"p":"dt","t":2,"x":668,"y":727},{"p":"dt","t":2,"x":710,"y":718},{"p":"dt","t":2,"x":820,"y":726},{"p":"dt","t":2,"x":865,"y":733},{"p":"dt","t":2,"x":912,"y":763},{"p":"dt","t":2,"x":947,"y":775},{"p":"dt","t":2,"x":987,"y":765},{"p":"dt","t":2,"x":1005,"y":745},{"p":"dt","t":2,"x":1005,"y":870,"n":1},{"p":"dt","t":2,"x":558,"y":870,"n":1},
{"p":"dt","t":0,"x":558,"y":772},{"p":"dt","t":0,"x":583,"y":777},{"p":"dt","t":0,"x":618,"y":769},{"p":"dt","t":0,"x":667,"y":739},{"p":"dt","t":0,"x":707,"y":729},{"p":"dt","t":0,"x":817,"y":731},{"p":"dt","t":0,"x":867,"y":742},{"p":"dt","t":0,"x":908,"y":768},{"p":"dt","t":0,"x":947,"y":784},{"p":"dt","t":0,"x":995,"y":774},{"p":"dt","t":0,"x":1005,"y":760},{"p":"dt","t":0,"x":1005,"y":870,"n":1},{"p":"dt","t":0,"x":558,"y":870,"n":1},
{"p":"dt","t":16,"x":870,"y":690,"n":1},{"p":"dt","t":16,"x":890,"y":690,"n":1},{"p":"dt","t":16,"x":888,"y":697,"n":1},{"p":"dt","t":16,"x":875,"y":696,"n":1},

{"p":"db","t":14,"x":558,"y":840,"n":1},{"p":"db","t":14,"x":1005,"y":840,"n":1},{"p":"db","t":14,"x":1005,"y":1060,"n":1},{"p":"db","t":14,"x":558,"y":1060,"n":1},
{"p":"db","t":12,"x":558,"y":1030},{"p":"db","t":12,"x":587,"y":1036},{"p":"db","t":12,"x":619,"y":1031},{"p":"db","t":12,"x":648,"y":990},{"p":"db","t":12,"x":660,"y":995},{"p":"db","t":12,"x":870,"y":995},{"p":"db","t":12,"x":890,"y":993},{"p":"db","t":12,"x":907,"y":1031},{"p":"db","t":12,"x":945,"y":1035},{"p":"db","t":12,"x":979,"y":1030},{"p":"db","t":12,"x":1000,"y":991},{"p":"db","t":12,"x":1005,"y":984},{"p":"db","t":12,"x":1005,"y":840,"n":1},{"p":"db","t":12,"x":558,"y":840,"n":1},
{"p":"db","t":11,"x":558,"y":1027},{"p":"db","t":11,"x":587,"y":1034},{"p":"db","t":11,"x":617,"y":1028},{"p":"db","t":11,"x":645,"y":986},{"p":"db","t":11,"x":660,"y":990},{"p":"db","t":11,"x":870,"y":990},{"p":"db","t":11,"x":891,"y":988},{"p":"db","t":11,"x":910,"y":1029},{"p":"db","t":11,"x":945,"y":1033},{"p":"db","t":11,"x":977,"y":1027},{"p":"db","t":11,"x":998,"y":986},{"p":"db","t":11,"x":1005,"y":977},{"p":"db","t":11,"x":1005,"y":840,"n":1},{"p":"db","t":11,"x":558,"y":840,"n":1},
{"p":"db","t":9,"x":558,"y":1023},{"p":"db","t":9,"x":587,"y":1032},{"p":"db","t":9,"x":614,"y":1024},{"p":"db","t":9,"x":642,"y":982},{"p":"db","t":9,"x":660,"y":985},{"p":"db","t":9,"x":870,"y":985},{"p":"db","t":9,"x":893,"y":982},{"p":"db","t":9,"x":913,"y":1026},{"p":"db","t":9,"x":945,"y":1030},{"p":"db","t":9,"x":975,"y":1024},{"p":"db","t":9,"x":995,"y":981},{"p":"db","t":9,"x":1005,"y":970},{"p":"db","t":9,"x":1005,"y":840,"n":1},{"p":"db","t":9,"x":558,"y":840,"n":1},
{"p":"db","t":6,"x":558,"y":1017},{"p":"db","t":6,"x":587,"y":1029},{"p":"db","t":6,"x":611,"y":1020},{"p":"db","t":6,"x":639,"y":977},{"p":"db","t":6,"x":647,"y":969},{"p":"db","t":6,"x":700,"y":971},{"p":"db","t":6,"x":773,"y":971},{"p":"db","t":6,"x":880,"y":971},{"p":"db","t":6,"x":888,"y":968},{"p":"db","t":6,"x":896,"y":976},{"p":"db","t":6,"x":917,"y":1022},{"p":"db","t":6,"x":945,"y":1026},{"p":"db","t":6,"x":972,"y":1020},{"p":"db","t":6,"x":992,"y":976},{"p":"db","t":6,"x":1005,"y":964},{"p":"db","t":6,"x":1005,"y":840,"n":1},{"p":"db","t":6,"x":558,"y":840,"n":1},
{"p":"db","t":4,"x":558,"y":1010},{"p":"db","t":4,"x":572,"y":1019},{"p":"db","t":4,"x":587,"y":1025},{"p":"db","t":4,"x":608,"y":1016},{"p":"db","t":4,"x":636,"y":972},{"p":"db","t":4,"x":650,"y":960},{"p":"db","t":4,"x":700,"y":961},{"p":"db","t":4,"x":773,"y":960},{"p":"db","t":4,"x":850,"y":963},{"p":"db","t":4,"x":885,"y":960},{"p":"db","t":4,"x":899,"y":970},{"p":"db","t":4,"x":920,"y":1018},{"p":"db","t":4,"x":945,"y":1022},{"p":"db","t":4,"x":970,"y":1017},{"p":"db","t":4,"x":989,"y":971},{"p":"db","t":4,"x":1005,"y":958},{"p":"db","t":4,"x":1005,"y":840,"n":1},{"p":"db","t":4,"x":558,"y":840,"n":1},
{"p":"db","t":2,"x":558,"y":1003},{"p":"db","t":2,"x":572,"y":1013},{"p":"db","t":2,"x":587,"y":1021},{"p":"db","t":2,"x":605,"y":1012},{"p":"db","t":2,"x":632,"y":967},{"p":"db","t":2,"x":651,"y":951},{"p":"db","t":2,"x":683,"y":953},{"p":"db","t":2,"x":773,"y":951},{"p":"db","t":2,"x":845,"y":953},{"p":"db","t":2,"x":883,"y":951},{"p":"db","t":2,"x":903,"y":966},{"p":"db","t":2,"x":923,"y":1014},{"p":"db","t":2,"x":945,"y":1018},{"p":"db","t":2,"x":967,"y":1014},{"p":"db","t":2,"x":986,"y":967},{"p":"db","t":2,"x":1005,"y":952},{"p":"db","t":2,"x":1005,"y":840,"n":1},{"p":"db","t":2,"x":558,"y":840,"n":1},
{"p":"db","t":0,"x":558,"y":993},{"p":"db","t":0,"x":572,"y":1008},{"p":"db","t":0,"x":587,"y":1017},{"p":"db","t":0,"x":603,"y":1007},{"p":"db","t":0,"x":628,"y":962},{"p":"db","t":0,"x":653,"y":943},{"p":"db","t":0,"x":683,"y":945},{"p":"db","t":0,"x":773,"y":939},{"p":"db","t":0,"x":883,"y":943},{"p":"db","t":0,"x":908,"y":963},{"p":"db","t":0,"x":927,"y":1011},{"p":"db","t":0,"x":945,"y":1013},{"p":"db","t":0,"x":965,"y":1010},{"p":"db","t":0,"x":983,"y":963},{"p":"db","t":0,"x":1005,"y":946},{"p":"db","t":0,"x":1005,"y":840,"n":1},{"p":"db","t":0,"x":558,"y":840,"n":1},

{"p":"am1","t":18,"x":38,"y":95,"n":1},{"p":"am1","t":18,"x":38,"y":163,"n":1},{"p":"am1","t":18,"x":72,"y":163,"n":1},{"p":"am1","t":18,"x":75,"y":187,"n":1},{"p":"am1","t":18,"x":82,"y":207,"n":1},{"p":"am1","t":18,"x":100,"y":223,"n":1},{"p":"am1","t":18,"x":120,"y":229,"n":1},{"p":"am1","t":18,"x":140,"y":225,"n":1},{"p":"am1","t":18,"x":157,"y":212,"n":1},{"p":"am1","t":18,"x":168,"y":190,"n":1},{"p":"am1","t":18,"x":172,"y":163,"n":1},{"p":"am1","t":18,"x":377,"y":163,"n":1},{"p":"am1","t":18,"x":382,"y":190,"n":1},{"p":"am1","t":18,"x":392,"y":210,"n":1},{"p":"am1","t":18,"x":408,"y":226,"n":1},{"p":"am1","t":18,"x":427,"y":230,"n":1},{"p":"am1","t":18,"x":447,"y":225,"n":1},{"p":"am1","t":18,"x":463,"y":212,"n":1},{"p":"am1","t":18,"x":475,"y":188,"n":1},{"p":"am1","t":18,"x":479,"y":163,"n":1},{"p":"am1","t":18,"x":487,"y":163,"n":1},{"p":"am1","t":18,"x":487,"y":95,"n":1},
{"p":"am2","t":18,"x":38,"y":430,"n":1},{"p":"am2","t":18,"x":72,"y":430,"n":1},{"p":"am2","t":18,"x":75,"y":453,"n":1},{"p":"am2","t":18,"x":83,"y":477,"n":1},{"p":"am2","t":18,"x":100,"y":492,"n":1},{"p":"am2","t":18,"x":120,"y":497,"n":1},{"p":"am2","t":18,"x":138,"y":493,"n":1},{"p":"am2","t":18,"x":157,"y":477,"n":1},{"p":"am2","t":18,"x":168,"y":450,"n":1},{"p":"am2","t":18,"x":173,"y":430,"n":1},{"p":"am2","t":18,"x":377,"y":430,"n":1},{"p":"am2","t":18,"x":382,"y":453,"n":1},{"p":"am2","t":18,"x":392,"y":477,"n":1},{"p":"am2","t":18,"x":408,"y":492,"n":1},{"p":"am2","t":18,"x":427,"y":497,"n":1},{"p":"am2","t":18,"x":448,"y":492,"n":1},{"p":"am2","t":18,"x":467,"y":473,"n":1},{"p":"am2","t":18,"x":477,"y":447,"n":1},{"p":"am2","t":18,"x":479,"y":430,"n":1},{"p":"am2","t":18,"x":487,"y":430,"n":1},{"p":"am2","t":18,"x":487,"y":530,"n":1},{"p":"am2","t":18,"x":38,"y":530,"n":1},
{"p":"bm1","t":18,"x":559,"y":95,"n":1},{"p":"bm1","t":18,"x":559,"y":158,"n":1},{"p":"bm1","t":18,"x":566,"y":158,"n":1},{"p":"bm1","t":18,"x":572,"y":187,"n":1},{"p":"bm1","t":18,"x":590,"y":215,"n":1},{"p":"bm1","t":18,"x":621,"y":225,"n":1},{"p":"bm1","t":18,"x":648,"y":217,"n":1},{"p":"bm1","t":18,"x":665,"y":200,"n":1},{"p":"bm1","t":18,"x":672,"y":177,"n":1},{"p":"bm1","t":18,"x":677,"y":158,"n":1},{"p":"bm1","t":18,"x":901,"y":158,"n":1},{"p":"bm1","t":18,"x":908,"y":190,"n":1},{"p":"bm1","t":18,"x":927,"y":217,"n":1},{"p":"bm1","t":18,"x":955,"y":227,"n":1},{"p":"bm1","t":18,"x":985,"y":217,"n":1},{"p":"bm1","t":18,"x":1003,"y":193,"n":1},{"p":"bm1","t":18,"x":1003,"y":95,"n":1},
{"p":"bm2","t":18,"x":559,"y":430,"n":1},{"p":"bm2","t":18,"x":565,"y":430,"n":1},{"p":"bm2","t":18,"x":572,"y":465,"n":1},{"p":"bm2","t":18,"x":587,"y":483,"n":1},{"p":"bm2","t":18,"x":600,"y":492,"n":1},{"p":"bm2","t":18,"x":620,"y":498,"n":1},{"p":"bm2","t":18,"x":647,"y":488,"n":1},{"p":"bm2","t":18,"x":668,"y":463,"n":1},{"p":"bm2","t":18,"x":677,"y":428,"n":1},{"p":"bm2","t":18,"x":902,"y":431,"n":1},{"p":"bm2","t":18,"x":907,"y":460,"n":1},{"p":"bm2","t":18,"x":923,"y":485,"n":1},{"p":"bm2","t":18,"x":957,"y":498,"n":1},{"p":"bm2","t":18,"x":985,"y":487,"n":1},{"p":"bm2","t":18,"x":1003,"y":467,"n":1},{"p":"bm2","t":18,"x":1003,"y":530,"n":1},{"p":"bm2","t":18,"x":559,"y":530,"n":1},
{"p":"cm1","t":18,"x":15,"y":640,"n":1},{"p":"cm1","t":18,"x":15,"y":761,"n":1},{"p":"cm1","t":18,"x":44,"y":769,"n":1},{"p":"cm1","t":18,"x":79,"y":761,"n":1},{"p":"cm1","t":18,"x":102,"y":732,"n":1},{"p":"cm1","t":18,"x":110,"y":699,"n":1},{"p":"cm1","t":18,"x":373,"y":699,"n":1},{"p":"cm1","t":18,"x":380,"y":735,"n":1},{"p":"cm1","t":18,"x":402,"y":761,"n":1},{"p":"cm1","t":18,"x":436,"y":769,"n":1},{"p":"cm1","t":18,"x":471,"y":761,"n":1},{"p":"cm1","t":18,"x":492,"y":737,"n":1},{"p":"cm1","t":18,"x":501,"y":699,"n":1},{"p":"cm1","t":18,"x":515,"y":699,"n":1},{"p":"cm1","t":18,"x":515,"y":640,"n":1},
{"p":"cm2","t":18,"x":15,"y":1039,"n":1},{"p":"cm2","t":18,"x":46,"y":1048,"n":1},{"p":"cm2","t":18,"x":78,"y":1038},{"p":"cm2","t":18,"x":102,"y":1011,"n":1},{"p":"cm2","t":18,"x":110,"y":977,"n":1},{"p":"cm2","t":18,"x":373,"y":977,"n":1},{"p":"cm2","t":18,"x":380,"y":1011,"n":1},{"p":"cm2","t":18,"x":404,"y":1038,"n":1},{"p":"cm2","t":18,"x":436,"y":1047,"n":1},{"p":"cm2","t":18,"x":471,"y":1038,"n":1},{"p":"cm2","t":18,"x":492,"y":1015,"n":1},{"p":"cm2","t":18,"x":502,"y":977,"n":1},{"p":"cm2","t":18,"x":515,"y":977,"n":1},{"p":"cm2","t":18,"x":515,"y":1075,"n":1},{"p":"cm2","t":18,"x":15,"y":1075,"n":1},
{"p":"dm1","t":18,"x":558,"y":636,"n":1},{"p":"dm1","t":18,"x":558,"y":754,"n":1},{"p":"dm1","t":18,"x":587,"y":763,"n":1},{"p":"dm1","t":18,"x":618,"y":754,"n":1},{"p":"dm1","t":18,"x":640,"y":728,"n":1},{"p":"dm1","t":18,"x":647,"y":694,"n":1},{"p":"dm1","t":18,"x":887,"y":694,"n":1},{"p":"dm1","t":18,"x":893,"y":722,"n":1},{"p":"dm1","t":18,"x":913,"y":753,"n":1},{"p":"dm1","t":18,"x":947,"y":763,"n":1},{"p":"dm1","t":18,"x":977,"y":755,"n":1},{"p":"dm1","t":18,"x":998,"y":728,"n":1},{"p":"dm1","t":18,"x":1005,"y":698,"n":1},{"p":"dm1","t":18,"x":1005,"y":636,"n":1},
{"p":"dm2","t":18,"x":558,"y":1032,"n":1},{"p":"dm2","t":18,"x":587,"y":1036,"n":1},{"p":"dm2","t":18,"x":620,"y":1030,"n":1},{"p":"dm2","t":18,"x":640,"y":1005,"n":1},{"p":"dm2","t":18,"x":647,"y":971,"n":1},{"p":"dm2","t":18,"x":887,"y":971,"n":1},{"p":"dm2","t":18,"x":893,"y":1003,"n":1},{"p":"dm2","t":18,"x":920,"y":1032,"n":1},{"p":"dm2","t":18,"x":945,"y":1036,"n":1},{"p":"dm2","t":18,"x":973,"y":1030,"n":1},{"p":"dm2","t":18,"x":1000,"y":998,"n":1},{"p":"dm2","t":18,"x":1005,"y":973,"n":1},{"p":"dm2","t":18,"x":1005,"y":1070,"n":1},{"p":"dm2","t":18,"x":558,"y":1070,"n":1},

{"p":"ah1","t":17,"x":881,"y":189,"n":1},{"p":"ah1","t":17,"x":868,"y":195,"n":1},{"p":"ah1","t":17,"x":878,"y":202,"n":1},{"p":"ah1","t":17,"x":881,"y":189,"n":1},
{"p":"ah2","t":17,"x":848,"y":725,"n":1},{"p":"ah2","t":17,"x":835,"y":733,"n":1},{"p":"ah2","t":17,"x":847,"y":738,"n":1},{"p":"ah2","t":17,"x":848,"y":725,"n":1}
],
"bars":[
{"t":0,"l":"300.0","x":37,"x2":67,"y":107,"y2":144,"yt":97,"yl":83},{"t":1,"l":"300.1","x":67,"x2":96,"y":107,"y2":144,"yt":97,"yl":83},{"t":2,"l":"300.3","x":96,"x2":126,"y":107,"y2":144,"yt":97,"yl":83},{"t":3,"l":"300.4","x":126,"x2":156,"y":107,"y2":144,"yt":97,"yl":83},{"t":4,"l":"300.5","x":156,"x2":186,"y":107,"y2":144,"yt":97,"yl":83},{"t":5,"l":"300.7","x":186,"x2":216,"y":107,"y2":144,"yt":97,"yl":83},{"t":6,"l":"300.8","x":216,"x2":245,"y":107,"y2":144,"yt":97,"yl":83},{"t":7,"l":"300.9","x":245,"x2":275,"y":107,"y2":144,"yt":97,"yl":83},{"t":8,"l":"301.0","x":275,"x2":305,"y":107,"y2":144,"yt":97,"yl":83},{"t":9,"l":"301.2","x":305,"x2":335,"y":107,"y2":144,"yt":97,"yl":83},{"t":10,"l":"301.3","x":335,"x2":365,"y":107,"y2":144,"yt":97,"yl":83},{"t":11,"l":"301.4","x":365,"x2":394,"y":107,"y2":144,"yt":97,"yl":83},{"t":12,"l":"301.6","x":394,"x2":424,"y":107,"y2":144,"yt":97,"yl":83},{"t":13,"l":"301.7","x":424,"x2":454,"y":107,"y2":144,"yt":97,"yl":83},{"t":14,"l":"301.8","x":454,"x2":483,"y":107,"y2":144,"yt":97,"yl":83},
{"t":0,"l":"300.0","x":559,"x2":589,"y":105,"y2":141,"yt":96,"yl":83},{"t":1,"l":"300.1","x":589,"x2":618,"y":105,"y2":141,"yt":96,"yl":83},{"t":2,"l":"300.3","x":618,"x2":648,"y":105,"y2":141,"yt":96,"yl":83},{"t":3,"l":"300.4","x":648,"x2":677,"y":105,"y2":141,"yt":96,"yl":83},{"t":4,"l":"300.5","x":677,"x2":707,"y":105,"y2":141,"yt":96,"yl":83},{"t":5,"l":"300.7","x":707,"x2":737,"y":105,"y2":141,"yt":96,"yl":83},{"t":6,"l":"300.8","x":737,"x2":766,"y":105,"y2":141,"yt":96,"yl":83},{"t":7,"l":"300.9","x":766,"x2":796,"y":105,"y2":141,"yt":96,"yl":83},{"t":8,"l":"301.0","x":796,"x2":825,"y":105,"y2":141,"yt":96,"yl":83},{"t":9,"l":"301.2","x":825,"x2":855,"y":105,"y2":141,"yt":96,"yl":83},{"t":10,"l":"301.3","x":855,"x2":885,"y":105,"y2":141,"yt":96,"yl":83},{"t":11,"l":"301.4","x":885,"x2":914,"y":105,"y2":141,"yt":96,"yl":83},{"t":12,"l":"301.6","x":914,"x2":944,"y":105,"y2":141,"yt":96,"yl":83},{"t":13,"l":"301.7","x":944,"x2":973,"y":105,"y2":141,"yt":96,"yl":83},{"t":14,"l":"301.8","x":973,"x2":1001,"y":105,"y2":141,"yt":96,"yl":83},
{"t":0,"l":"300.0","x":18,"x2":52,"y":652,"y2":690,"yt":642,"yl":628},{"t":1,"l":"300.1","x":52,"x2":85,"y":652,"y2":690,"yt":642,"yl":628},{"t":2,"l":"300.3","x":85,"x2":119,"y":652,"y2":690,"yt":642,"yl":628},{"t":3,"l":"300.4","x":119,"x2":152,"y":652,"y2":690,"yt":642,"yl":628},{"t":4,"l":"300.5","x":152,"x2":186,"y":652,"y2":690,"yt":642,"yl":628},{"t":5,"l":"300.7","x":186,"x2":219,"y":652,"y2":690,"yt":642,"yl":628},{"t":6,"l":"300.8","x":219,"x2":253,"y":652,"y2":690,"yt":642,"yl":628},{"t":7,"l":"300.9","x":253,"x2":286,"y":652,"y2":690,"yt":642,"yl":628},{"t":8,"l":"301.0","x":286,"x2":320,"y":652,"y2":690,"yt":642,"yl":628},{"t":9,"l":"301.2","x":320,"x2":353,"y":652,"y2":690,"yt":642,"yl":628},{"t":10,"l":"301.3","x":353,"x2":387,"y":652,"y2":690,"yt":642,"yl":628},{"t":11,"l":"301.4","x":387,"x2":420,"y":652,"y2":690,"yt":642,"yl":628},{"t":12,"l":"301.6","x":420,"x2":454,"y":652,"y2":690,"yt":642,"yl":628},{"t":13,"l":"301.7","x":454,"x2":487,"y":652,"y2":690,"yt":642,"yl":628},{"t":14,"l":"301.8","x":487,"x2":516,"y":652,"y2":690,"yt":642,"yl":628},
{"t":0,"l":"300.0","x":559,"x2":589,"y":644,"y2":679,"yt":634,"yl":622},{"t":1,"l":"300.1","x":589,"x2":619,"y":644,"y2":679,"yt":634,"yl":622},{"t":2,"l":"300.3","x":619,"x2":648,"y":644,"y2":679,"yt":634,"yl":622},{"t":3,"l":"300.4","x":648,"x2":678,"y":644,"y2":679,"yt":634,"yl":622},{"t":4,"l":"300.5","x":678,"x2":708,"y":644,"y2":679,"yt":634,"yl":622},{"t":5,"l":"300.7","x":708,"x2":738,"y":644,"y2":679,"yt":634,"yl":622},{"t":6,"l":"300.8","x":738,"x2":768,"y":644,"y2":679,"yt":634,"yl":622},{"t":7,"l":"300.9","x":768,"x2":797,"y":644,"y2":679,"yt":634,"yl":622},{"t":8,"l":"301.0","x":797,"x2":827,"y":644,"y2":679,"yt":634,"yl":622},{"t":9,"l":"301.2","x":827,"x2":857,"y":644,"y2":679,"yt":634,"yl":622},{"t":10,"l":"301.3","x":857,"x2":887,"y":644,"y2":679,"yt":634,"yl":622},{"t":11,"l":"301.4","x":887,"x2":917,"y":644,"y2":679,"yt":634,"yl":622},{"t":12,"l":"301.6","x":917,"x2":946,"y":644,"y2":679,"yt":634,"yl":622},{"t":13,"l":"301.7","x":946,"x2":978,"y":644,"y2":679,"yt":634,"yl":622},{"t":14,"l":"301.8","x":978,"x2":1005,"y":644,"y2":679,"yt":634,"yl":622}
],
"segments":[
{"k":"g","x":444,"y":423,"x2":444,"y2":456},{"k":"b","x":418,"y":456,"x2":444,"y2":456},
{"k":"g","x":962,"y":425,"x2":962,"y2":456},{"k":"b","x":936,"y":456,"x2":962,"y2":456},
{"k":"g","x":467,"y":980,"x2":467,"y2":1011},{"k":"b","x":440,"y":1011,"x2":468,"y2":1011},
{"k":"g","x":963,"y":975,"x2":963,"y2":1003},{"k":"b","x":937,"y":1004,"x2":963,"y2":1004},
{"k":"k","x":816,"y":247,"x2":876,"y2":194},{"k":"k","x":797,"y":782,"x2":844,"y2":730}
],
"dots":[
{"k":"r","x":444,"y":456},{"k":"c","x":431,"y":439},{"k":"r","x":962,"y":456},{"k":"c","x":949,"y":440},{"k":"r","x":468,"y":1011},{"k":"c","x":453,"y":995},{"k":"r","x":963,"y":1003},{"k":"c","x":949,"y":988}
],
"rings":[{"x":894,"y":168},{"x":867,"y":704}],
"texts":[
{"k":"s","x":450,"y":21,"text":"[K]"},{"k":"s","x":976,"y":22,"text":"[K]"},{"k":"s","x":451,"y":563,"text":"[K]"},{"k":"s","x":986,"y":560,"text":"[K]"},
{"k":"d","x":795,"y":255,"text":"Maximum"},{"k":"d","x":805,"y":295,"text":"temperature"},{"k":"e","x":780,"y":790,"text":"Maximum"},{"k":"e","x":790,"y":830,"text":"temperature"},
{"k":"s","x":247,"y":519,"text":"("},{"k":"b","x":258,"y":519,"text":"a"},{"k":"s","x":270,"y":519,"text":")"},
{"k":"s","x":771,"y":519,"text":"("},{"k":"b","x":782,"y":519,"text":"b"},{"k":"s","x":794,"y":519,"text":")"},
{"k":"s","x":249,"y":1073,"text":"("},{"k":"b","x":259,"y":1073,"text":"c"},{"k":"s","x":269,"y":1073,"text":")"},
{"k":"s","x":771,"y":1070,"text":"("},{"k":"b","x":782,"y":1070,"text":"d"},{"k":"s","x":794,"y":1070,"text":")"},
{"k":"l","x":74,"y":167,"text":"Temperature"},{"k":"l","x":75,"y":202,"text":"Contour 1"},
{"k":"l","x":595,"y":166,"text":"Phase 1.Temperature"},{"k":"l","x":595,"y":197,"text":"Contour 1"},
{"k":"c","x":54,"y":705,"text":"Temperature"},{"k":"c","x":54,"y":735,"text":"Contour 1"},
{"k":"l","x":594,"y":705,"text":"Temperature"},{"k":"l","x":594,"y":735,"text":"Contour 1"},
{"k":"a","x":446,"y":410,"text":"Y"},{"k":"a","x":414,"y":452,"text":"Z"},{"k":"a","x":964,"y":413,"text":"Y"},{"k":"a","x":932,"y":452,"text":"Z"},{"k":"a","x":471,"y":968,"text":"Y"},{"k":"a","x":434,"y":1007,"text":"Z"},{"k":"a","x":965,"y":963,"text":"Y"},{"k":"a","x":933,"y":1000,"text":"Z"}
]
},
"encoding":{
"x":{"field":"x","type":"quantitative","scale":{"domain":[0,1015],"nice":false,"zero":false},"axis":null},
"y":{"field":"y","type":"quantitative","scale":{"domain":[1086,0],"nice":false,"zero":false},"axis":null}
},
"layer":[
{"data":{"name":"contours"},"transform":[{"filter":"datum.t<18"}],"mark":{"type":"line","order":null,"strokeWidth":0,"clip":false},"encoding":{"fill":{"field":"t","type":"nominal","scale":{"domain":[0,1,2,3,4,5,6,7,8,9,10,11,12,13,14,15,16,17,18],"range":["#0a24f0","#0a72ff","#0095ff","#00c0ff","#00f4ff","#00ffe0","#00ffc0","#00f8a0","#00ee70","#00f000","#00f000","#30f000","#90ff00","#ccff00","#ffe800","#ff9a00","#e82000","#000000","#ffffff"]},"legend":null},"detail":{"field":"p"}}},
{"data":{"name":"contours"},"transform":[{"filter":"!datum.n"}],"mark":{"type":"line","order":null,"stroke":"#0c1420","strokeWidth":1},"encoding":{"detail":[{"field":"p"},{"field":"t"}]}},
{"data":{"name":"contours"},"transform":[{"filter":"datum.t==18"}],"mark":{"type":"line","order":null,"strokeWidth":0,"fill":"#ffffff"},"encoding":{"detail":{"field":"p"}}},
{"data":{"name":"contours"},"transform":[{"filter":"datum.t==17"}],"mark":{"type":"line","order":null,"strokeWidth":0,"fill":"#000000"},"encoding":{"detail":{"field":"p"}}},
{"data":{"name":"bars"},"mark":{"type":"rect"},"encoding":{"x2":{"field":"x2"},"y2":{"field":"y2"},"fill":{"field":"t","type":"nominal","legend":null}}},
{"data":{"name":"bars"},"mark":{"type":"rule","stroke":"#555555","strokeWidth":1},"encoding":{"y":{"field":"yt","type":"quantitative"},"y2":{"field":"y"}}},
{"data":{"name":"bars"},"mark":{"type":"text","font":"Liberation Sans","fontSize":17,"angle":-47,"align":"left","baseline":"middle","fill":"#333333"},"encoding":{"y":{"field":"yl","type":"quantitative"},"text":{"field":"l"}}},
{"data":{"name":"segments"},"mark":{"type":"rule","strokeWidth":1.5},"encoding":{"x2":{"field":"x2"},"y2":{"field":"y2"},"color":{"field":"k","type":"nominal","scale":{"domain":["g","b","k","r","c"],"range":["#0a8a3a","#101a90","#000000","#e00010","#20c8d8"]},"legend":null}}},
{"data":{"name":"segments"},"transform":[{"filter":"datum.k=='g'"}],"mark":{"type":"point","shape":"triangle-up","filled":true,"size":30,"color":"#0a9a40","opacity":1}},
{"data":{"name":"segments"},"transform":[{"filter":"datum.k=='b'"}],"mark":{"type":"point","shape":"triangle-left","filled":true,"size":30,"color":"#101a90","opacity":1}},
{"data":{"name":"dots"},"mark":{"type":"point","shape":"circle","filled":true,"size":35,"opacity":1},"encoding":{"color":{"field":"k","type":"nominal","scale":{"domain":["g","b","k","r","c"],"range":["#0a8a3a","#101a90","#000000","#e00010","#20c8d8"]},"legend":null}}},
{"data":{"name":"rings"},"mark":{"type":"point","shape":"M -1 0 A 1 0.72 0 1 0 1 0 A 1 0.72 0 1 0 -1 0 Z","filled":false,"size":3364,"stroke":"#111111","strokeWidth":1.3,"opacity":1}},
{"data":{"name":"texts"},"transform":[{"filter":"datum.k=='s'"}],"mark":{"type":"text","font":"Liberation Serif","fontSize":24.5,"align":"center","baseline":"middle","fill":"#111111"},"encoding":{"text":{"field":"text"}}},
{"data":{"name":"texts"},"transform":[{"filter":"datum.k=='d'"}],"mark":{"type":"text","font":"Liberation Serif","fontSize":26.3,"align":"center","baseline":"middle","fill":"#111111"},"encoding":{"text":{"field":"text"}}},
{"data":{"name":"texts"},"transform":[{"filter":"datum.k=='e'"}],"mark":{"type":"text","font":"Liberation Serif","fontSize":27.8,"align":"center","baseline":"middle","fill":"#111111"},"encoding":{"text":{"field":"text"}}},
{"data":{"name":"texts"},"transform":[{"filter":"datum.k=='b'"}],"mark":{"type":"text","font":"Liberation Serif","fontSize":24.5,"fontWeight":"bold","align":"center","baseline":"middle","fill":"#111111"},"encoding":{"text":{"field":"text"}}},
{"data":{"name":"texts"},"transform":[{"filter":"datum.k=='l'"}],"mark":{"type":"text","font":"Liberation Sans","fontSize":14,"align":"left","baseline":"middle","fill":"#333333"},"encoding":{"text":{"field":"text"}}},
{"data":{"name":"texts"},"transform":[{"filter":"datum.k=='c'"}],"mark":{"type":"text","font":"Liberation Sans","fontSize":15.8,"align":"left","baseline":"middle","fill":"#333333"},"encoding":{"text":{"field":"text"}}},
{"data":{"name":"texts"},"transform":[{"filter":"datum.k=='a'"}],"mark":{"type":"text","font":"Liberation Sans","fontSize":9,"align":"center","baseline":"middle","fill":"#3aa0a0"},"encoding":{"text":{"field":"text"}}}
]}
